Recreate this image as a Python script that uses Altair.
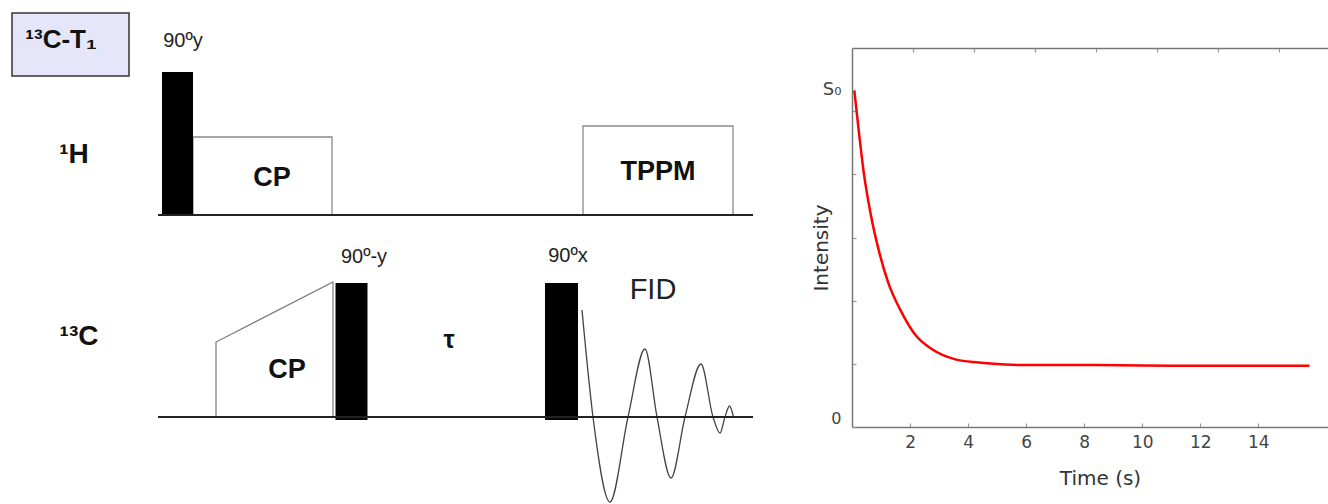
import altair as alt
import pandas as pd

# ---------------- relaxation curve ----------------
time_s = [0.08, 0.23, 0.41, 0.64, 0.92, 1.26, 1.67, 2.18, 2.76, 3.56, 4.36,
          5.27, 5.96, 8.0, 10.0, 12.0, 14.0, 15.76]
intensity = [5.33, 4.70, 4.01, 3.38, 2.80, 2.27, 1.85, 1.46, 1.23, 1.07, 1.02,
             0.99, 0.98, 0.98, 0.975, 0.97, 0.97, 0.97]
x_ticks = [2, 4, 6, 8, 10, 12, 14]
top_ticks = [2.1, 4.2, 6.3, 8.4, 10.5, 12.6, 14.7]
y_ticks = [0, 1, 2, 3, 4, 5, 5.35]
s0_level = 5.35

# ---------------- pulse sequence geometry ----------------
# sequence units: x runs left to right, y grows downward
baseline_y = [215, 417]
baseline_start = [158, 158]
baseline_end = [753, 753]

# hard 90 degree pulses (1H 90y, 13C 90-y, 13C 90x)
pulse_x0 = [162, 335.5, 545]
pulse_x1 = [193, 367.5, 578]
pulse_top = [72, 283, 283]
pulse_bottom = [215, 420, 420]

# low-power blocks on the proton channel (CP contact, TPPM decoupling)
block_x0 = [193, 583]
block_x1 = [332, 733]
block_top = [137, 126]
block_bottom = [215, 215]

# ramped CP on the carbon channel
ramp_x = [216, 216, 333, 333]
ramp_y = [417, 342, 282, 417]

# free induction decay: turning points and zero crossings
fid_x = [582, 593, 610, 628, 645, 657, 671, 685, 701, 713, 720, 725, 729.5, 733.5]
fid_y = [310, 417, 502, 417, 349, 417, 478, 417, 364, 417, 433, 417, 406, 417]

# experiment tag box
tag_box = {"x0": 12, "x1": 129, "y0": 13, "y1": 76}

bold_text = ["¹³C-T₁", "¹H", "¹³C", "CP", "TPPM", "CP", "τ"]
bold_x = [61, 74, 79, 272, 658, 287, 449]
bold_y = [40, 155, 337, 178, 172, 370, 340]
bold_size = [26, 28, 28, 27, 27, 27, 25]

plain_text = ["90ºy", "90º-y", "90ºx", "FID"]
plain_x = [183, 364, 568, 653]
plain_y = [41, 257, 256, 290]
plain_size = [20, 20, 20, 29]

# ---------------- frames ----------------
curve_df = pd.DataFrame({"t": time_s, "v": intensity})
top_df = pd.DataFrame({"t": top_ticks})
base_df = pd.DataFrame({"x0": baseline_start, "x1": baseline_end, "y": baseline_y})
pulse_df = pd.DataFrame({"x0": pulse_x0, "x1": pulse_x1, "y0": pulse_top, "y1": pulse_bottom})
block_df = pd.DataFrame({"x0": block_x0, "x1": block_x1, "y0": block_top, "y1": block_bottom})
ramp_df = pd.DataFrame({"x": ramp_x, "y": ramp_y, "k": list(range(len(ramp_x)))})
fid_df = pd.DataFrame({"x": fid_x, "y": fid_y})
tag_df = pd.DataFrame([tag_box])
bold_df = pd.DataFrame({"label": bold_text, "x": bold_x, "y": bold_y, "fs": bold_size})
plain_df = pd.DataFrame({"label": plain_text, "x": plain_x, "y": plain_y, "fs": plain_size})

PLOT_W, PLOT_H = 476, 379
PAD_L, PAD_T = 852, 48

# sequence drawing lives to the left of the relaxation plot
SX = alt.Scale(domain=[0, 1328], range=[-PAD_L, 1328 - PAD_L], nice=False, zero=False)
SY = alt.Scale(domain=[0, 504], range=[-PAD_T, 504 - PAD_T], nice=False, zero=False)
DIAG_FONT = "Liberation Sans"


def sx(field):
    return alt.X(field, type="quantitative", scale=SX, axis=None)


def sy(field):
    return alt.Y(field, type="quantitative", scale=SY, axis=None)


tag = alt.Chart(tag_df).mark_rect(fill="#e6e6fa", stroke="#333333", strokeWidth=1.5).encode(
    x=sx("x0"), x2="x1", y=sy("y0"), y2="y1")

blocks = alt.Chart(block_df).mark_rect(fill="white", stroke="#8a8a8a", strokeWidth=1.3).encode(
    x=sx("x0"), x2="x1", y=sy("y0"), y2="y1")

ramp = alt.Chart(ramp_df).mark_line(color="#7a7a7a", strokeWidth=1.2).encode(
    x=sx("x"), y=sy("y"), order="k:Q")

pulses = alt.Chart(pulse_df).mark_rect(fill="black").encode(
    x=sx("x0"), x2="x1", y=sy("y0"), y2="y1")

fid = alt.Chart(fid_df).mark_line(color="#444444", strokeWidth=1.3, interpolate="monotone").encode(
    x=sx("x"), y=sy("y"))

baselines = alt.Chart(base_df).mark_rule(color="#222222", strokeWidth=1.8).encode(
    x=sx("x0"), x2="x1", y=sy("y"))

bold_labels = alt.Chart(bold_df).mark_text(
    font=DIAG_FONT, fontWeight="bold", color="#111111", align="center", baseline="middle"
).encode(x=sx("x"), y=sy("y"), text="label:N", size=alt.Size("fs:Q", scale=None))

plain_labels = alt.Chart(plain_df).mark_text(
    font=DIAG_FONT, color="#222222", align="center", baseline="middle"
).encode(x=sx("x"), y=sy("y"), text="label:N", size=alt.Size("fs:Q", scale=None))

# ---------------- relaxation plot ----------------
INWARD = {"expr": "-4"}

curve = alt.Chart(curve_df).mark_line(color="#ff0000", strokeWidth=2.5, interpolate="monotone").encode(
    x=alt.X("t:Q", scale=alt.Scale(domain=[0, 16.4], nice=False, zero=False),
            axis=alt.Axis(orient="bottom", values=x_ticks, title="Time (s)",
                          tickSize=INWARD, labelPadding=11, labelFontSize=17,
                          titleFontSize=20, titleX=248, titleY=57,
                          titleBaseline="alphabetic", titleAlign="center")),
    y=alt.Y("v:Q", scale=alt.Scale(domain=[0, 6], nice=False, zero=False),
            axis=alt.Axis(orient="left", values=y_ticks, title="Intensity",
                          labelExpr=f"datum.value == 0 ? '0' : (abs(datum.value - {s0_level}) < 0.01 ? 'S₀' : '')",
                          labelOffset={"condition": {"test": "datum.value == 0", "value": -9}, "value": 0},
                          labelFontSize={"condition": {"test": "datum.value == 0", "value": 16}, "value": 18},
                          tickOpacity={"condition": {"test": f"abs(datum.value - {s0_level}) < 0.01", "value": 0}, "value": 1},
                          tickSize=INWARD, labelPadding=15,
                          titleFontSize=20, titleX=-25, titleY=199.5, titleAngle=-90,
                          titleBaseline="alphabetic", titleAlign="center")),
)

top_axis = alt.Chart(top_df).mark_rule(opacity=0).encode(
    x=alt.X("t:Q", scale=alt.Scale(domain=[0, 16.4], nice=False, zero=False),
            axis=alt.Axis(orient="top", values=top_ticks, labels=False, title=None,
                          tickSize=INWARD))
)

chart = alt.layer(
    tag, blocks, ramp, pulses, fid, baselines, bold_labels, plain_labels, curve, top_axis
).resolve_scale(x="independent", y="independent").properties(
    width=PLOT_W, height=PLOT_H,
    padding={"left": PAD_L, "top": PAD_T, "right": 0, "bottom": 504 - PAD_T - PLOT_H},
    autosize=alt.AutoSizeParams(type="none"),
    background="white",
).configure_view(stroke=None).configure_axis(
    domainColor="#777777", domainWidth=1.5, tickColor="#999999", tickWidth=1.2,
    grid=False, labelFont="DejaVu Sans", titleFont="DejaVu Sans",
    labelColor="#444444", titleColor="#333333", titleFontWeight="normal",
)

chart.save("out.html", embed_options={"renderer": "svg", "actions": False})
